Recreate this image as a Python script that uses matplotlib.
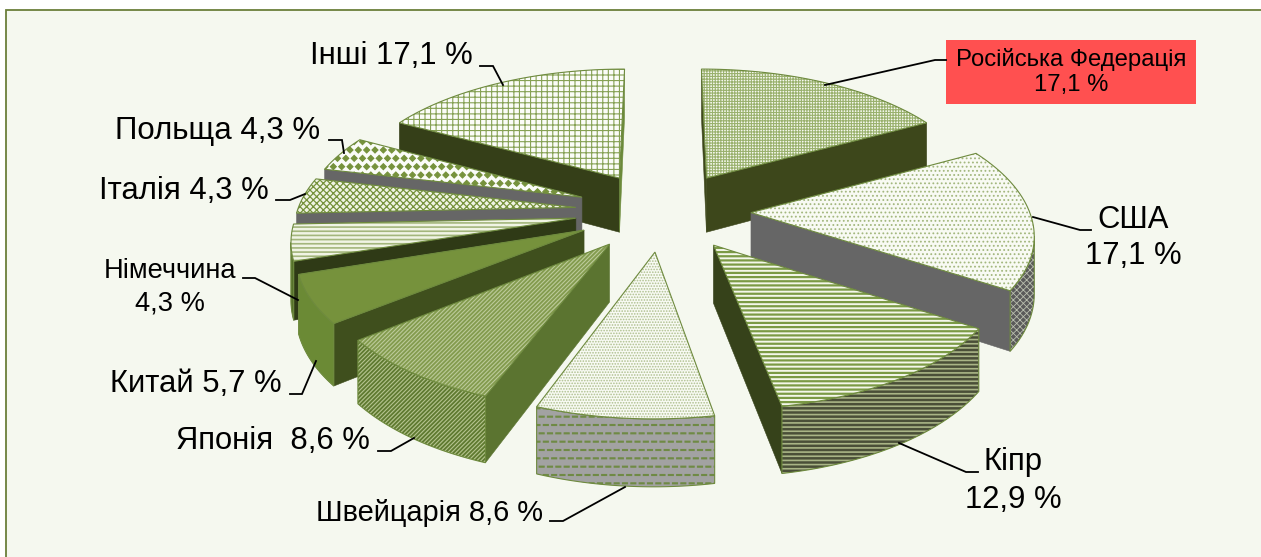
import numpy as np
import matplotlib
matplotlib.use("Agg")
import matplotlib.pyplot as plt
import matplotlib.hatch as mhatch
from matplotlib.path import Path
from matplotlib.patches import Polygon, Rectangle

plt.rcParams['font.family'] = ['Liberation Sans', 'DejaVu Sans']
plt.rcParams['hatch.linewidth'] = 0.8


class Diamonds(mhatch.Shapes):
    size = 0.36
    filled = True

    def __init__(self, hatch, density):
        self.num_rows = hatch.count('d') * density
        self.shape_vertices = np.array([[0, 1], [1, 0], [0, -1], [-1, 0], [0, 1]], float)
        self.shape_codes = np.array([Path.MOVETO, Path.LINETO, Path.LINETO, Path.LINETO, Path.CLOSEPOLY])
        super().__init__(hatch, density)


class Dashes(mhatch.Shapes):
    size = 0.3
    filled = True

    def __init__(self, hatch, density):
        self.num_rows = hatch.count('q') * density
        self.shape_vertices = np.array([[-1, 0.2], [1, 0.2], [1, -0.2], [-1, -0.2], [-1, 0.2]], float)
        self.shape_codes = np.array([Path.MOVETO, Path.LINETO, Path.LINETO, Path.LINETO, Path.CLOSEPOLY])
        super().__init__(hatch, density)


mhatch._hatch_types.extend([Diamonds, Dashes])

# ---- data (clockwise from 12 o'clock) ----
countries = ["Російська Федерація", "США", "Кіпр", "Швейцарія", "Японія",
             "Китай", "Німеччина", "Італія", "Польща", "Інші"]
shares = [17.1, 17.1, 12.9, 8.6, 8.6, 5.7, 4.3, 4.3, 4.3, 17.1]

# ---- styles: top (face, hatch colour, hatch, hatch width) etc. ----
top_styles = [("#F6F9EF", "#9AB16E", "++++++", 0.8), ("#F8FAF3", "#A3B77E", "....", 0.8),
              ("#F4F7EA", "#7B9A45", "----", 1.6), ("#F8FAF3", "#AEBF8E", "......", 0.8),
              ("#839B4E", "#BCCB9A", "////////", 0.8), ("#76923C", None, None, 0),
              ("#F0F4E4", "#A3B67C", "----", 1.2), ("#F0F4E4", "#76923C", "xxxxx", 0.9),
              ("#FBFCF8", "#76923C", "dd", 0.8), ("#FBFCF8", "#86A154", "+++", 0.8)]
side_colors = ["#3D471B", "#666666", "#36421A", "#5F7A30", "#5B7430",
               "#3F4F1D", "#2F3A16", "#666666", "#666666", "#353F18"]
end_side_colors = ["#3D471B", "#666666", "#36421A", "#5F7A30", "#5B7430",
                   "#3F4F1D", "#2F3A16", "#666666", "#666666", "#6B8A3A"]
rim_styles = [("#3D471B", None, None, 0), ("#5A5A5A", "#B9BEAE", "xxxxx", 0.6),
              ("#4A4F38", "#A9B586", "----", 1.2), ("#A2A2A2", "#6F8A45", "qq", 0.8),
              ("#5F7A30", "#B5C48F", "////////", 0.8), ("#6B8A35", None, None, 0),
              ("#55702A", None, None, 0), ("#666666", None, None, 0),
              ("#666666", None, None, 0), ("#353F18", None, None, 0)]
outline = "#6E8A3E"

# ---- 3D pie geometry ----
CX, CY = 663, 211        # pixel centre of the plane
AX, BY = 293, 132        # pixel scale of the plane
PERSP = 0.135            # perspective strength
RX = 0.95                # radius, x-direction of the plane
EXPLODE = 0.30           # slice offset
HEIGHT = 56              # extrusion in pixels at w = 1


def project(X, Y):
    w = 1.0 / (1.0 + PERSP * Y)
    return CX + AX * X * w, CY - BY * Y * w, HEIGHT * w


def area(p):
    x, y = p[:, 0], p[:, 1]
    return 0.5 * np.sum(x * np.roll(y, -1) - np.roll(x, -1) * y)


fig = plt.figure(figsize=(12.61, 5.57), dpi=100, facecolor="white")
ax = fig.add_axes([0, 0, 1, 1])
ax.set_xlim(0, 1261)
ax.set_ylim(557, 0)
ax.axis("off")
ax.add_patch(Rectangle((6, 10), 1300, 600, fc="#F5F8EF", ec="#6B7F3A", lw=1.3))

fractions = np.array(shares) / np.sum(shares)
edges = np.concatenate([[0], np.cumsum(fractions)]) * 2 * np.pi
slices = []
for i in range(len(shares)):
    a0, a1 = edges[i], edges[i + 1]
    mid = (a0 + a1) / 2
    ox, oy = EXPLODE * np.sin(mid), EXPLODE * np.cos(mid)
    th = np.linspace(a0, a1, 41)
    Xs = np.concatenate([[ox], ox + RX * np.sin(th)])
    Ys = np.concatenate([[oy], oy + np.cos(th)])
    sx, sy, h = project(Xs, Ys)
    slices.append((oy, i, np.column_stack([sx, sy]), h))


def face(pts, fc, hc, hatch, hw, z):
    if hatch:
        p = Polygon(pts, closed=True, fc=fc, ec=hc, hatch=hatch, lw=0, zorder=z)
        if hasattr(p, "set_hatch_linewidth"):
            p.set_hatch_linewidth(hw)
        ax.add_patch(p)
    else:
        ax.add_patch(Polygon(pts, closed=True, fc=fc, ec=fc, lw=0.3, zorder=z))
    ax.add_patch(Polygon(pts, closed=True, fill=False, ec=outline, lw=0.8, zorder=z))


# back-to-front
for z, (oy, i, top, h) in enumerate(sorted(slices, key=lambda s: -s[0])):
    base = 2 + z * 0.1
    low = top + np.column_stack([np.zeros(len(h)), h])
    n = len(top)
    # radial sides
    for a, b, col in ((0, 1, side_colors[i]), (n - 1, 0, end_side_colors[i])):
        quad = np.array([top[a], top[b], low[b], low[a]])
        if area(quad) < 0:
            ax.add_patch(Polygon(quad, closed=True, fc=col, ec=col, lw=0.4, zorder=base))
    # outer rim (only the segments facing the viewer)
    vis = [k for k in range(1, n - 1)
           if area(np.array([top[k], top[k + 1], low[k + 1], low[k]])) < 0]
    if vis:
        idx = list(range(vis[0], vis[-1] + 2))
        rim = np.vstack([top[idx], low[idx][::-1]])
        face(rim, *rim_styles[i], base + 0.01)
    face(top, *top_styles[i], base + 0.02)

# ---- labels: text, x, y, size, line spacing, leader ----
labels = [
    ("Інші 17,1 %", 391, 56, 22.3, 1.0, [(480, 66), (493, 66), (503, 85)]),
    ("Польща 4,3 %", 218, 131, 22.5, 1.0, [(329, 140), (342, 140), (344, 153)]),
    ("Італія 4,3 %", 184, 191, 22.3, 1.0, [(276, 200), (290, 200), (305, 194)]),
    ("Німеччина\n4,3 %", 170, 287, 19.6, 1.31, [(243, 278), (255, 278), (298, 300)]),
    ("Китай 5,7 %", 196, 384, 22.3, 1.0, [(290, 394), (302, 394), (316, 361)]),
    ("Японія  8,6 %", 273, 441, 22.3, 1.0, [(378, 451), (391, 451), (414, 438)]),
    ("Швейцарія 8,6 %", 429, 513, 20.9, 1.0, [(550, 521), (563, 521), (625, 487)]),
    ("Кіпр\n12,9 %", 1013, 481, 22.3, 1.33, [(899, 443), (966, 472), (978, 472)]),
    ("США\n17,1 %", 1133, 238, 22.3, 1.27, [(1033, 217), (1080, 230), (1091, 230)]),
]
for text, x, y, size, ls, leader in labels:
    ax.text(x, y, text, ha="center", va="center", fontsize=size, color="black",
            linespacing=ls, zorder=20)
    lx, ly = zip(*leader)
    ax.plot(lx, ly, color="black", lw=1.3, zorder=19, solid_joinstyle="miter")

ax.plot([825, 935, 946], [85, 60, 60], color="black", lw=1.3, zorder=19)
ax.add_patch(Rectangle((946, 40), 250, 64, fc="#FF5050", ec="none", zorder=18))
ax.text(1071, 72, "Російська Федерація\n17,1 %", ha="center", va="center",
        fontsize=17.2, color="black", linespacing=1.23, zorder=20)

fig.savefig("out.png", dpi=100, facecolor="white")
